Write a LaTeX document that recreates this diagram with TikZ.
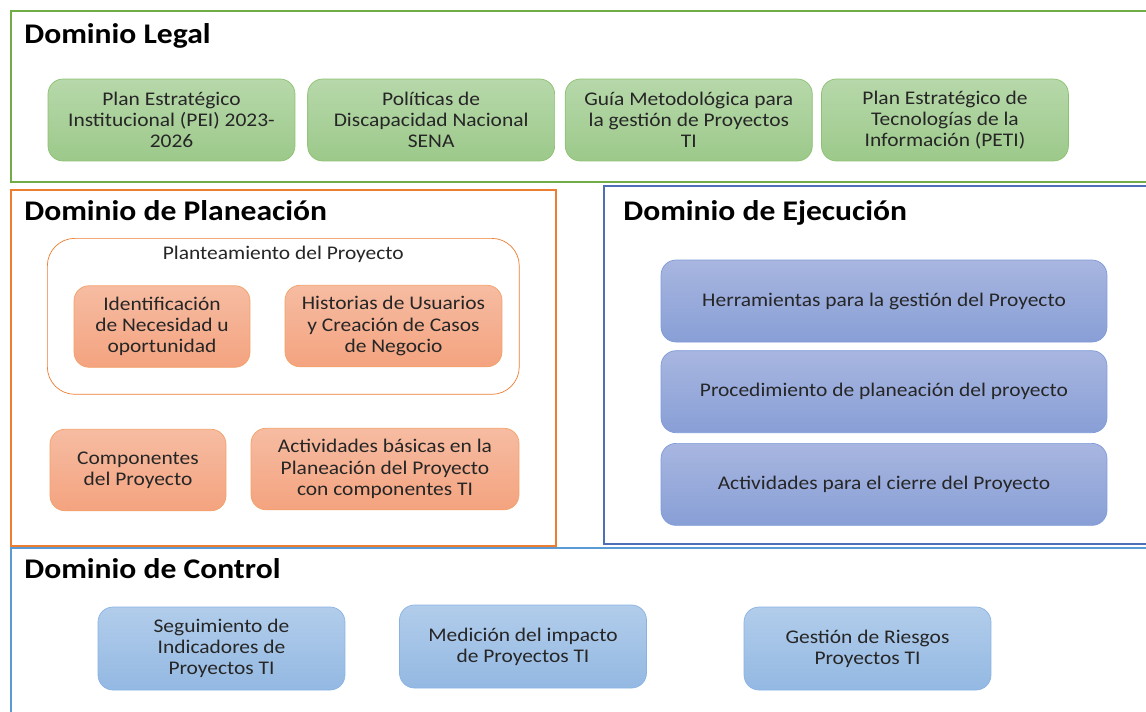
\documentclass[tikz,border=0pt]{standalone}
\usepackage{fontspec}
\setmainfont{Carlito}[FakeStretch=1.11]
\usepackage{xcolor}
\usetikzlibrary{positioning}

\definecolor{legalline}{HTML}{70AD47}
\definecolor{planline}{HTML}{ED7D31}
\definecolor{ejecline}{HTML}{4F6EB8}
\definecolor{ctrlline}{HTML}{5B9BD5}
\definecolor{greentop}{HTML}{B7D8AA}
\definecolor{greenbot}{HTML}{9CC98A}
\definecolor{greenline}{HTML}{8CC172}
\definecolor{orangetop}{HTML}{F6BCA2}
\definecolor{orangebot}{HTML}{F4A37F}
\definecolor{orangeline}{HTML}{F3A168}
\definecolor{bluetop}{HTML}{A8B6E0}
\definecolor{bluebot}{HTML}{889FD6}
\definecolor{blueline}{HTML}{7F9ADA}
\definecolor{skytop}{HTML}{B2CDEB}
\definecolor{skybot}{HTML}{93B8E2}
\definecolor{skyline}{HTML}{8AB3E3}

\begin{document}
\begin{tikzpicture}[
  x=0.02cm,y=-0.02cm,
  every node/.style={font=\fontsize{11}{12.1}\selectfont,text=black!85},
  frame/.style={rectangle,line width=1pt,fill=white,inner sep=0pt},
  title/.style={anchor=west,inner sep=0pt,font=\fontsize{16.2}{18}\selectfont\bfseries,text=black},
  greenbox/.style={rectangle,rounded corners=0.3cm,draw=greenline,top color=greentop,bottom color=greenbot,align=center,minimum width=4.94cm,minimum height=1.64cm,inner sep=2pt},
  orangebox/.style={rectangle,rounded corners=0.3cm,draw=orangeline,top color=orangetop,bottom color=orangebot,align=center,minimum height=1.63cm,inner sep=2pt},
  bluebox/.style={rectangle,rounded corners=0.3cm,draw=blueline,top color=bluetop,bottom color=bluebot,align=center,minimum width=8.92cm,minimum height=1.64cm},
  skybox/.style={rectangle,rounded corners=0.3cm,draw=skyline,top color=skytop,bottom color=skybot,align=center,minimum width=4.94cm,minimum height=1.66cm}
]
\useasboundingbox (0,0) rectangle (1146,711);

\node[frame,draw=legalline,minimum width=22.8cm,minimum height=3.42cm,anchor=north west] (legal) at (10,10) {};
\node[frame,draw=planline,minimum width=10.9cm,minimum height=7.12cm,anchor=north west] (plan) at (10,189) {};
\node[frame,draw=ejecline,minimum width=10.94cm,minimum height=7.16cm,anchor=north west] (ejec) at (603,185) {};
\node[frame,draw=ctrlline,minimum width=22.8cm,minimum height=3.5cm,anchor=north west] (ctrl) at (10,547) {};

\node[title] (legaltitle) at (24,36) {Dominio Legal};
\node[title] (plantitle) at (24,211) {Dominio de Planeación};
\node[title] (ejectitle) at (623,213) {Dominio de Ejecución};
\node[title] (ctrltitle) at (24,569) {Dominio de Control};

\node[greenbox] (pei) at (171.5,120) {Plan Estratégico\\Institucional (PEI) 2023-\\2026};
\node[greenbox,right=0.24cm of pei] (pol) {Políticas de\\Discapacidad Nacional\\SENA};
\node[greenbox,right=0.2cm of pol] (guia) {Guía Metodológica para\\la gestión de Proyectos\\TI};
\node[greenbox,right=0.17cm of guia] (peti) {Plan Estratégico de\\Tecnologías de la\\Información (PETI)};

\node[rectangle,rounded corners=0.55cm,draw=planline,fill=white,minimum width=9.44cm,minimum height=3.12cm,anchor=north west] (plant) at (47,238) {};
\node[below=0.15cm of plant.north,inner sep=0pt] (planttitle) {Planteamiento del Proyecto};
\node[orangebox,minimum width=3.52cm] (ident) at (162,326.5) {Identificación\\de Necesidad u\\oportunidad};
\node[orangebox,minimum width=4.34cm] (hist) at (393.5,326) {Historias de Usuarios\\y Creación de Casos\\de Negocio};
\node[orangebox,minimum width=3.52cm] (comp) at (138,470) {Componentes\\del Proyecto};
\node[orangebox,minimum width=5.36cm] (activ) at (385,469) {Actividades básicas en la\\Planeación del Proyecto\\con componentes TI};

\node[bluebox] (herr) at (884,301) {Herramientas para la gestión del Proyecto};
\node[bluebox,below=0.16cm of herr] (proc) {Procedimiento de planeación del proyecto};
\node[bluebox,below=0.2cm of proc] (cierre) {Actividades para el cierre del Proyecto};

\node[skybox] (seg) at (221.5,648.5) {Seguimiento de\\Indicadores de\\Proyectos TI};
\node[skybox] (med) at (523,646.5) {Medición del impacto\\de Proyectos TI};
\node[skybox] (riesg) at (867.5,648.5) {Gestión de Riesgos\\Proyectos TI};
\end{tikzpicture}
\end{document}
